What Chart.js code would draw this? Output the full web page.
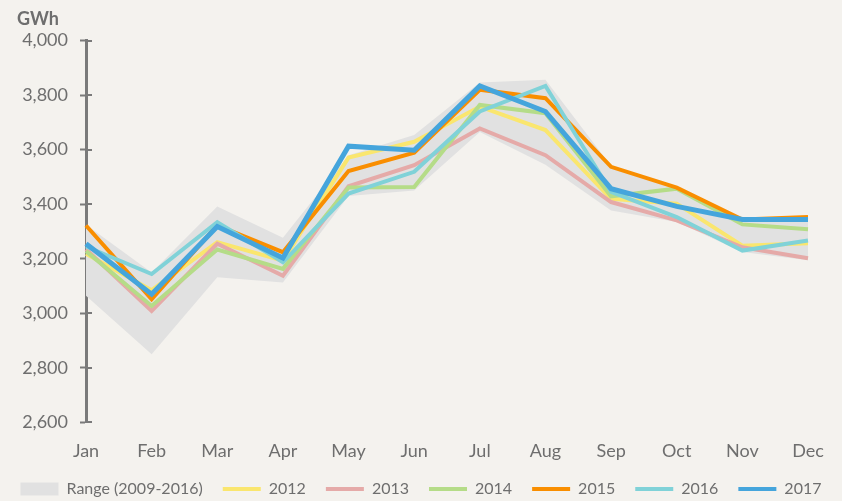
<!DOCTYPE html>
<html lang="en">
<head>
  <meta charset="UTF-8">
  <title>Monthly electricity demand</title>
  <script src="https://cdn.jsdelivr.net/npm/chart.js"></script>
  <style>
    body {
      margin: 0;
      padding: 0;
      background-color: #f4f2ee;
    }
    .wrap {
      width: 842px;
      height: 501px;
    }
  </style>
</head>
<body>
  <div class="wrap">
    <canvas id="demandChart"></canvas>
  </div>
  <script>
    const months = ['Jan', 'Feb', 'Mar', 'Apr', 'May', 'Jun', 'Jul', 'Aug', 'Sep', 'Oct', 'Nov', 'Dec'];

    // range of 2009-2016
    const rangeLow = [3064, 2850, 3132, 3113, 3430, 3450, 3665, 3545, 3377, 3335, 3225, 3195];
    const rangeHigh = [3325, 3150, 3392, 3277, 3580, 3654, 3846, 3856, 3540, 3465, 3348, 3355];

    const y2012 = [3218, 3085, 3261, 3193, 3571, 3629, 3758, 3672, 3420, 3402, 3248, 3257];
    const y2013 = [3235, 3009, 3255, 3138, 3466, 3543, 3678, 3580, 3408, 3341, 3242, 3202];
    const y2014 = [3228, 3027, 3234, 3163, 3461, 3463, 3764, 3734, 3429, 3457, 3326, 3308];
    const y2015 = [3322, 3052, 3322, 3224, 3522, 3589, 3820, 3789, 3537, 3461, 3344, 3353];
    const y2016 = [3245, 3144, 3334, 3187, 3439, 3519, 3740, 3834, 3445, 3353, 3230, 3267];
    const y2017 = [3255, 3070, 3318, 3203, 3613, 3598, 3834, 3740, 3457, 3392, 3344, 3344];

    const yTicks = [2600, 2800, 3000, 3200, 3400, 3600, 3800, 4000];

    const textColor = '#6e6e6e';
    const axisColor = '#7a7a7a';
    const rangeColor = '#e1e1e1';

    const years = [
      { label: '2012', data: y2012, color: '#fae66e' },
      { label: '2013', data: y2013, color: '#e5aaa8' },
      { label: '2014', data: y2014, color: '#b5dc88' },
      { label: '2015', data: y2015, color: '#f98e00' },
      { label: '2016', data: y2016, color: '#80d2d8' },
      { label: '2017', data: y2017, color: '#45a5dc' },
    ];

    Chart.defaults.font.family = 'Lato, sans-serif';
    Chart.defaults.font.size = 18;
    Chart.defaults.color = textColor;

    const datasets = [
      {
        label: 'Range (2009-2016)',
        data: rangeHigh,
        backgroundColor: rangeColor,
        borderWidth: 0,
        pointRadius: 0,
        fill: '+1',
        order: 20,
      },
      {
        label: 'rangeLow',
        data: rangeLow,
        borderWidth: 0,
        pointRadius: 0,
        fill: false,
        order: 21,
      },
    ];
    // later years drawn on top
    years.forEach((y, i) => {
      datasets.push({
        label: y.label,
        data: y.data,
        borderColor: y.color,
        backgroundColor: y.color,
        borderWidth: y.label === '2017' ? 5 : 4,
        pointRadius: 0,
        tension: 0,
        fill: false,
        order: years.length - i,
      });
    });

    // small tick stubs on the inner side of the y axis + nudge the GWh title
    const axisExtras = {
      id: 'axisExtras',
      afterLayout(chart) {
        if (chart.titleBlock) chart.titleBlock.left = 17;
      },
      beforeDatasetsDraw(chart) {
        const scale = chart.scales.y;
        const ctx = chart.ctx;
        ctx.save();
        ctx.strokeStyle = axisColor;
        ctx.lineWidth = 2;
        yTicks.forEach(v => {
          const py = Math.round(scale.getPixelForValue(v));
          ctx.beginPath();
          ctx.moveTo(scale.right, py);
          ctx.lineTo(scale.right + 6, py);
          ctx.stroke();
        });
        ctx.restore();
      }
    };

    const ctx = document.getElementById('demandChart').getContext('2d');
    const chart = new Chart(ctx, {
      type: 'line',
      data: { labels: months, datasets: datasets },
      plugins: [axisExtras],
      options: {
        responsive: true,
        maintainAspectRatio: false,
        animation: false,
        layout: {
          padding: 0,
        },
        plugins: {
          tooltip: { enabled: false },
          title: {
            display: true,
            text: 'GWh',
            align: 'start',
            color: textColor,
            font: { size: 18, weight: 'bold' },
            padding: { top: 8, bottom: 11 },
          },
          legend: {
            position: 'bottom',
            maxHeight: 40,
            labels: {
              usePointStyle: true,
              pointStyleWidth: 38,
              boxHeight: 13,
              padding: 20,
              font: { size: 16 },
              color: textColor,
              generateLabels(chart) {
                const items = [{
                  text: 'Range (2009-2016)',
                  fillStyle: rangeColor,
                  strokeStyle: rangeColor,
                  lineWidth: 0,
                  pointStyle: 'rect',
                  datasetIndex: 0,
                  fontColor: textColor,
                }];
                years.forEach((y, i) => {
                  items.push({
                    text: y.label,
                    fillStyle: y.color,
                    strokeStyle: y.color,
                    lineWidth: 4,
                    pointStyle: 'line',
                    datasetIndex: i + 2,
                    fontColor: textColor,
                  });
                });
                return items;
              },
            },
          },
        },
        scales: {
          x: {
            offset: false,
            afterFit(scale) {
              scale.paddingRight = 34;
              scale.height -= 11;
            },
            grid: { display: false },
            border: { display: false },
            ticks: { padding: 10, color: textColor, maxRotation: 0 },
          },
          y: {
            min: 2600,
            max: 4000,
            afterFit(scale) { scale.width = 86; },
            afterBuildTicks(scale) { scale.ticks = yTicks.map(v => ({ value: v })); },
            grid: {
              drawOnChartArea: false,
              drawTicks: true,
              tickLength: 6,
              tickWidth: 2,
              tickColor: axisColor,
            },
            border: { display: true, color: axisColor, width: 3 },
            ticks: {
              padding: 12,
              color: textColor,
              callback: v => v.toLocaleString('en-US'),
            },
          },
        },
      },
    });
  </script>
</body>
</html>
